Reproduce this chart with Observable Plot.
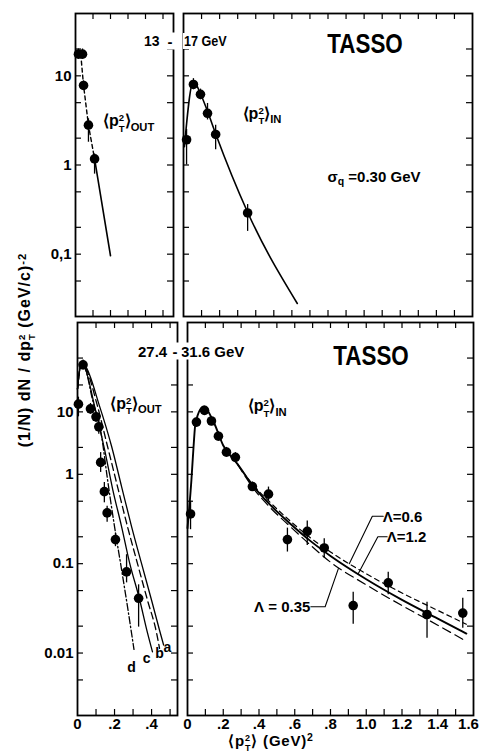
<!DOCTYPE html>
<html><head><meta charset="utf-8">
<script src="https://cdn.jsdelivr.net/npm/d3@7"></script>
<script src="https://cdn.jsdelivr.net/npm/@observablehq/plot@0.6"></script>
<style>
body{margin:0;background:#fff;}
#chart{position:relative;width:482px;height:751px;overflow:hidden;background:#fff;
  font-family:"Liberation Sans",Arial,sans-serif;font-weight:bold;color:#000;}
.lbl{position:absolute;white-space:nowrap;line-height:1;}
.st{display:inline-block;vertical-align:-0.5em;font-size:0.6em;line-height:1.08;text-align:left;}
.st span{display:block;}
.sb{font-size:0.7em;position:relative;top:0.35em;}
.sp{font-size:0.7em;position:relative;top:-0.45em;}
</style></head><body><div id="chart"></div><script>
// ---------- tick values and labels ----------
const xTicksLeft = [0.1, 0.2, 0.3, 0.4, 0.5];
const xTicksRight = [0.1,0.2,0.3,0.4,0.5,0.6,0.7,0.8,0.9,1.0,1.1,1.2,1.3,1.4,1.5];
const xLabelValsLeft = [0, 0.2, 0.4];
const xLabelTextLeft = ["0", ".2", ".4"];
const xLabelValsRight = [0, 0.2, 0.4, 0.6, 0.8, 1.0, 1.2, 1.4, 1.6];
const xLabelTextRight = ["0", ".2", ".4", ".6", ".8", "1.0", "1.2", "1.4", "1.6"];
const yTicksTop = [20, 10, 5, 2, 1, 0.5, 0.2, 0.1, 0.05];
const yLabelValsTop = [10, 1, 0.1];
const yLabelTextTop = ["10", "1", "0,1"];
const yTicksBottom = [20, 10, 5, 2, 1, 0.5, 0.2, 0.1, 0.05, 0.02, 0.01, 0.005];
// the original figure prints its "10" beside the 5 tick of the lower panels
const yLabelValsBottom = [5, 1, 0.1, 0.01];
const yLabelTextBottom = ["10", "1", "0.1", "0.01"];

// ---------- 13-17 GeV, <pT^2>_OUT ----------
const tlX  = [0.017, 0.04, 0.046, 0.074, 0.109];
const tlY  = [17.5, 17.5, 7.8, 2.8, 1.17];
const tlLo = [15.5, 15.5, 7.0, 1.8, 0.79];
const tlHi = [20, 20, 8.8, 3.3, 1.33];
const tlDashX = [0.03, 0.046, 0.074, 0.109];
const tlDashY = [17.5, 7.8, 2.8, 1.17];
const tlSolidX = [0.109, 0.2];
const tlSolidY = [1.17, 0.096];

// ---------- 13-17 GeV, <pT^2>_IN ----------
const trX  = [0.017, 0.055, 0.094, 0.133, 0.178, 0.355];
const trY  = [1.92, 8.0, 6.2, 3.8, 2.2, 0.29];
const trLo = [1.0, 7.0, 5.4, 3.2, 1.48, 0.18];
const trHi = [2.5, 9.3, 7.1, 4.9, 2.8, 0.36];
const trFitX = [0.005, 0.055, 0.094, 0.133, 0.178, 0.355, 0.63];
const trFitY = [1.6, 8.7, 6.3, 4.0, 2.24, 0.295, 0.028];

// ---------- 27.4-31.6 GeV, <pT^2>_OUT ----------
const blX  = [0.005, 0.03, 0.07, 0.10, 0.115, 0.125, 0.145, 0.16, 0.205, 0.265, 0.33];
const blY  = [6.1, 16.8, 5.4, 4.4, 3.4, 1.36, 0.64, 0.37, 0.186, 0.081, 0.041];
const blLo = [4.4, 15, 4.7, 3.8, 2.8, 1.05, 0.48, 0.29, 0.155, 0.061, 0.0195];
const blHi = [7.3, 19, 6.2, 5.0, 4.0, 1.75, 0.81, 0.44, 0.22, 0.126, 0.058];
const curveAX = [0, 0.02, 0.04, 0.119, 0.184, 0.238, 0.292, 0.346, 0.4, 0.443, 0.465];
const curveAY = [9, 17.5, 16.5, 5.8, 2.06, 0.73, 0.26, 0.1, 0.039, 0.018, 0.0123];
const curveBX = [0, 0.02, 0.04, 0.108, 0.162, 0.216, 0.27, 0.324, 0.378, 0.427, 0.443];
const curveBY = [9, 17.5, 16, 5.8, 2.06, 0.73, 0.26, 0.1, 0.039, 0.0168, 0.0113];
const curveCX = [0, 0.02, 0.04, 0.092, 0.146, 0.19, 0.238, 0.28, 0.335, 0.378, 0.405];
const curveCY = [9, 17, 15.5, 5.8, 1.9, 0.68, 0.26, 0.105, 0.04, 0.0168, 0.0103];
const curveDX = [0, 0.02, 0.04, 0.08, 0.13, 0.162, 0.2, 0.238, 0.27, 0.305];
const curveDY = [9, 17, 15.5, 7.0, 2.67, 0.88, 0.26, 0.086, 0.033, 0.011];
const curveNames = ["a", "b", "c", "d"];
const curveNameX = [0.486, 0.443, 0.373, 0.292];
const curveNameY = [0.0114, 0.0098, 0.0086, 0.0069];

// ---------- 27.4-31.6 GeV, <pT^2>_IN ----------
const brX  = [0.017, 0.05, 0.095, 0.134, 0.173, 0.218, 0.268, 0.363, 0.453, 0.559, 0.67, 0.765, 0.927, 1.123, 1.34, 1.54];
const brY  = [0.36, 3.84, 5.2, 3.95, 2.67, 1.77, 1.55, 0.73, 0.6, 0.186, 0.23, 0.15, 0.034, 0.061, 0.027, 0.028];
const brLo = [0.24, 3.4, 4.7, 3.5, 2.4, 1.6, 1.35, 0.65, 0.5, 0.135, 0.16, 0.115, 0.021, 0.045, 0.0146, 0.019];
const brHi = [0.5, 4.3, 5.8, 4.4, 3.0, 2.0, 1.75, 0.82, 0.72, 0.25, 0.30, 0.19, 0.048, 0.08, 0.037, 0.041];
const fitMidX = [0, 0.022, 0.034, 0.045, 0.09, 0.145, 0.2, 0.28, 0.363, 0.46, 0.575, 0.687, 0.8, 1.0, 1.2, 1.4, 1.56];
const fitMidY = [0.25, 0.87, 2.06, 3.8, 5.7, 3.9, 2.1, 1.3, 0.76, 0.46, 0.28, 0.18, 0.122, 0.067, 0.0394, 0.0243, 0.0165];
const fitUpX = [0.28, 0.363, 0.46, 0.575, 0.687, 0.8, 1.0, 1.2, 1.4, 1.56];
const fitUpY = [1.3, 0.78, 0.49, 0.30, 0.195, 0.135, 0.077, 0.047, 0.03, 0.021];
const fitLowX = [0.28, 0.363, 0.46, 0.575, 0.687, 0.8, 1.0, 1.2, 1.4, 1.56];
const fitLowY = [1.3, 0.72, 0.43, 0.26, 0.162, 0.104, 0.058, 0.034, 0.0205, 0.0135];
// leader lines of the Λ annotations (data units)
const lead06X = [1.095, 1.034, 0.905], lead06Y = [0.34, 0.34, 0.1];
const lead12X = [1.117, 1.065, 0.955], lead12Y = [0.2, 0.2, 0.077];
const lead035X = [0.69, 0.77, 0.844], lead035Y = [0.033, 0.033, 0.088];

const FONT = '"Liberation Sans",Arial,sans-serif';
const chart = document.getElementById("chart");

function makePanel(cfg) {
  const {left, top, width, height, ml, mr, mt, mb} = cfg;
  const innerW = width - ml - mr, innerH = height - mt - mb, tl = 6;
  const marks = [
    Plot.tickX(cfg.xTicks, {x: d => d, insetBottom: innerH - tl, strokeWidth: 1.2}),
    Plot.tickX(cfg.xTicks, {x: d => d, insetTop: innerH - tl, strokeWidth: 1.2}),
    Plot.tickY(cfg.yTicks, {y: d => d, insetRight: innerW - tl, strokeWidth: 1.2}),
    Plot.tickY(cfg.yTicks, {y: d => d, insetLeft: innerW - tl, strokeWidth: 1.2}),
    Plot.frame({stroke: "black", strokeWidth: 1.8})
  ];
  if (cfg.xLabelVals) {
    const n = cfg.xLabelVals.length;
    const last = cfg.xLabelVals[n - 1] === cfg.xDomain[1];
    const inner = last ? cfg.xLabelVals.slice(0, n - 1) : cfg.xLabelVals;
    marks.push(Plot.text(inner, {x: d => d, text: (d, i) => cfg.xLabelText[i],
      frameAnchor: "bottom", lineAnchor: "top", dy: 3, fontSize: 15, fontWeight: "bold"}));
    if (last) marks.push(Plot.text([cfg.xLabelVals[n - 1]], {x: d => d, text: () => cfg.xLabelText[n - 1],
      frameAnchor: "bottom", lineAnchor: "top", dy: 3, dx: -5, fontSize: 15, fontWeight: "bold"}));
  }
  if (cfg.yLabelVals) marks.push(Plot.text(cfg.yLabelVals, {y: d => d, text: (d, i) => cfg.yLabelText[i],
    frameAnchor: "left", textAnchor: "end", dx: -4, fontSize: 15, fontWeight: "bold"}));
  marks.push(...cfg.marks);
  const svg = Plot.plot({
    width, height, marginLeft: ml, marginRight: mr, marginTop: mt, marginBottom: mb,
    x: {domain: cfg.xDomain, axis: null},
    y: {type: "log", domain: cfg.yDomain, axis: null},
    style: {background: "transparent", overflow: "visible", fontFamily: FONT, color: "black"},
    marks
  });
  svg.style.position = "absolute";
  svg.style.left = left + "px";
  svg.style.top = top + "px";
  chart.appendChild(svg);
  return {sx: v => left + svg.scale("x").apply(v), sy: v => top + svg.scale("y").apply(v)};
}

function label(html, x, y, {anchor = "start", size = 15, rotate = 0, bg = false, pad = "1px 1px", sx = 1, ls = 0} = {}) {
  const d = document.createElement("div");
  d.className = "lbl";
  d.innerHTML = html;
  d.style.left = x + "px";
  d.style.top = y + "px";
  d.style.fontSize = size + "px";
  if (ls) d.style.letterSpacing = ls + "px";
  if (bg) { d.style.background = "#fff"; d.style.padding = pad; }
  const tx = anchor === "start" ? "0" : anchor === "end" ? "-100%" : "-50%";
  d.style.transformOrigin = anchor === "start" ? "left center" : anchor === "end" ? "right center" : "center";
  d.style.transform = `translate(${tx}, -50%)` + (rotate ? ` rotate(${rotate}deg)` : "") + (sx !== 1 ? ` scaleX(${sx})` : "");
  chart.appendChild(d);
  return d;
}
const pT2 = '⟨p<span class="st"><span>2</span><span>T</span></span>⟩';

const dotR = 4.8;
const errW = 1.3;

const TL = makePanel({left: 35, top: 11, width: 140, height: 307, ml: 40, mr: 2, mt: 2, mb: 2,
  xDomain: [0, 0.56], yDomain: [0.02, 50], xTicks: xTicksLeft, yTicks: yTicksTop,
  yLabelVals: yLabelValsTop, yLabelText: yLabelTextTop,
  marks: [
    Plot.line(tlDashX, {x: tlDashX, y: tlDashY, strokeWidth: 1.4, strokeDasharray: "4,3"}),
    Plot.line(tlSolidX, {x: tlSolidX, y: tlSolidY, strokeWidth: 1.6}),
    Plot.ruleX(tlX, {x: tlX, y1: tlLo, y2: tlHi, strokeWidth: errW}),
    Plot.dot(tlX, {x: tlX, y: tlY, r: dotR, fill: "black", stroke: "none"})
  ]});

const TR = makePanel({left: 181, top: 11, width: 297, height: 307, ml: 2, mr: 6, mt: 2, mb: 2,
  xDomain: [0, 1.6], yDomain: [0.02, 50], xTicks: xTicksRight, yTicks: yTicksTop,
  marks: [
    Plot.line(trFitX, {x: trFitX, y: trFitY, strokeWidth: 1.6, curve: "monotone-x"}),
    Plot.ruleX(trX, {x: trX, y1: trLo, y2: trHi, strokeWidth: errW}),
    Plot.dot(trX, {x: trX, y: trY, r: dotR, fill: "black", stroke: "none"})
  ]});

const BL = makePanel({left: 37, top: 320, width: 142, height: 420, ml: 40, mr: 2, mt: 2, mb: 25,
  xDomain: [0, 0.54], yDomain: [0.002, 50], xTicks: xTicksLeft, yTicks: yTicksBottom,
  xLabelVals: xLabelValsLeft, xLabelText: xLabelTextLeft,
  yLabelVals: yLabelValsBottom, yLabelText: yLabelTextBottom,
  marks: [
    Plot.line(curveAX, {x: curveAX, y: curveAY, strokeWidth: 1.3, curve: "monotone-x"}),
    Plot.line(curveBX, {x: curveBX, y: curveBY, strokeWidth: 1.3, strokeDasharray: "7,4", curve: "monotone-x"}),
    Plot.line(curveCX, {x: curveCX, y: curveCY, strokeWidth: 1.3, curve: "monotone-x"}),
    Plot.line(curveDX, {x: curveDX, y: curveDY, strokeWidth: 1.3, strokeDasharray: "7,2.5,1.5,2.5", curve: "monotone-x"}),
    Plot.ruleX(blX, {x: blX, y1: blLo, y2: blHi, strokeWidth: errW}),
    Plot.dot(blX, {x: blX, y: blY, r: dotR, fill: "black", stroke: "none"}),
    Plot.text(curveNames, {x: curveNameX, y: curveNameY, text: d => d, fontSize: 14, fontWeight: "bold"})
  ]});

const BR = makePanel({left: 185, top: 320, width: 296, height: 420, ml: 2, mr: 8, mt: 2, mb: 25,
  xDomain: [0, 1.6], yDomain: [0.002, 50], xTicks: xTicksRight, yTicks: yTicksBottom,
  xLabelVals: xLabelValsRight, xLabelText: xLabelTextRight,
  marks: [
    Plot.line(fitUpX, {x: fitUpX, y: fitUpY, strokeWidth: 1.2, strokeDasharray: "5,4", curve: "monotone-x"}),
    Plot.line(fitLowX, {x: fitLowX, y: fitLowY, strokeWidth: 1.2, strokeDasharray: "9,5", curve: "monotone-x"}),
    Plot.line(fitMidX, {x: fitMidX, y: fitMidY, strokeWidth: 1.9, curve: "monotone-x"}),
    Plot.line(lead06X, {x: lead06X, y: lead06Y, strokeWidth: 1.1}),
    Plot.line(lead12X, {x: lead12X, y: lead12Y, strokeWidth: 1.1}),
    Plot.line(lead035X, {x: lead035X, y: lead035Y, strokeWidth: 1.1}),
    Plot.ruleX(brX, {x: brX, y1: brLo, y2: brHi, strokeWidth: errW}),
    Plot.dot(brX, {x: brX, y: brY, r: dotR, fill: "black", stroke: "none"})
  ]});

// ---------- annotations ----------
label("13", 143, 41, {size: 14, bg: true});
label("17 GeV", 183, 41, {size: 14, bg: true, sx: 0.9});
label("-", 170, 41, {anchor: "middle", size: 15, bg: true, pad: "1px 5px"});
label("TASSO", TR.sx(1.01), TR.sy(22.7), {anchor: "middle", size: 28, sx: 0.8});
label(pT2 + '<span class="sb">IN</span>', TR.sx(0.33), TR.sy(3.5), {size: 16});
label('σ<span class="sb">q</span> =0.30 GeV', TR.sx(0.8), TR.sy(0.75), {size: 15});
label(pT2 + '<span class="sb">OUT</span>', TL.sx(0.16), TL.sy(2.9), {size: 16});

label("27.4", 137, 351, {size: 15, bg: true});
label("31.6 GeV", 180, 351, {size: 15, bg: true});
label("-", 175, 351, {anchor: "middle", size: 15, bg: true, pad: "1px 4px"});
label("TASSO", BR.sx(1.03), BR.sy(21), {anchor: "middle", size: 28, sx: 0.8});
label(pT2 + '<span class="sb">OUT</span>', BL.sx(0.18), BL.sy(5.8), {size: 16});
label(pT2 + '<span class="sb">IN</span>', BR.sx(0.34), BR.sy(5.4), {size: 16});
label("Λ=0.6", BR.sx(1.095), BR.sy(0.34), {size: 15});
label("Λ=1.2", BR.sx(1.117), BR.sy(0.2), {size: 15});
label("Λ = 0.35", BR.sx(0.69), BR.sy(0.033), {anchor: "end", size: 15});

// axis titles
label('(1/N) dN / dp<span class="st"><span>2</span><span>T</span></span> (GeV/c)<span class="sp">-2</span>', 27, 350, {anchor: "middle", size: 16, rotate: -90, ls: 1});
label(pT2 + ' (GeV)<span class="sp">2</span>', 271, 743, {anchor: "middle", size: 15, ls: 0.8});
</script></body></html>
